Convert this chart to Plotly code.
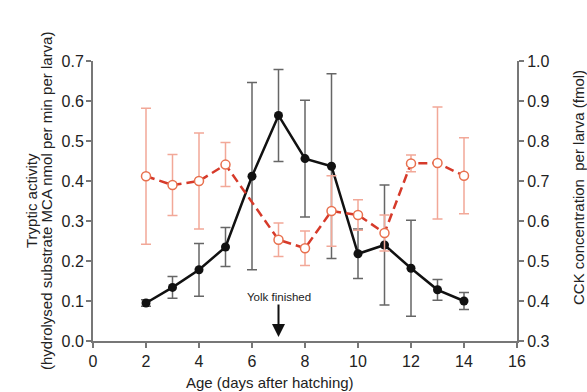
import plotly.graph_objects as go

days_trypsin = [2, 3, 4, 5, 6, 7, 8, 9, 10, 11, 12, 13, 14]
trypsin = [0.095, 0.134, 0.178, 0.235, 0.412, 0.564, 0.456, 0.437, 0.218, 0.240, 0.182, 0.128, 0.100]
trypsin_err = [0.008, 0.027, 0.066, 0.049, 0.234, 0.115, 0.146, 0.231, 0.062, 0.150, 0.120, 0.026, 0.021]

days_cck = [2, 3, 4, 5, 7, 8, 9, 10, 11, 12, 13, 14]
cck = [0.712, 0.690, 0.700, 0.741, 0.553, 0.532, 0.625, 0.615, 0.570, 0.744, 0.745, 0.713]
cck_err = [0.170, 0.076, 0.120, 0.055, 0.042, 0.043, 0.088, 0.038, 0.045, 0.021, 0.140, 0.095]

x_ticks = [0, 2, 4, 6, 8, 10, 12, 14, 16]
left_ticks = [0.0, 0.1, 0.2, 0.3, 0.4, 0.5, 0.6, 0.7]
right_ticks = [0.3, 0.4, 0.5, 0.6, 0.7, 0.8, 0.9, 1.0]

FONT = "Liberation Sans, Arial, sans-serif"
AX = "#777777"
TXT = "#222222"

fig = go.Figure()

fig.add_trace(go.Scatter(
    x=days_cck, y=cck, yaxis="y2", mode="lines+markers",
    line=dict(color="#d63a2a", width=2.5, dash="9px,5px"),
    marker=dict(symbol="circle", size=9, color="white",
                line=dict(color="#e8704e", width=1.5)),
    error_y=dict(type="data", array=cck_err, visible=True,
                 color="#f2a898", thickness=1.5, width=5),
    showlegend=False,
))

fig.add_trace(go.Scatter(
    x=days_trypsin, y=trypsin, mode="lines+markers",
    line=dict(color="#111111", width=2.5),
    marker=dict(symbol="circle", size=9, color="#111111"),
    error_y=dict(type="data", array=trypsin_err, visible=True,
                 color="#666666", thickness=1.5, width=5),
    showlegend=False,
))

axis_common = dict(
    showline=True, linecolor=AX, linewidth=2,
    ticks="outside", ticklen=5, tickwidth=1.5, tickcolor=AX,
    showgrid=False, zeroline=False,
    tickfont=dict(family=FONT, size=16, color=TXT),
)

def ytitle(text, xpx, size=15):
    return dict(text=text, xref="paper", yref="paper", x=(xpx - 93) / 424, y=0.5,
                textangle=-90, showarrow=False, xanchor="center", yanchor="middle",
                font=dict(family=FONT, size=size, color=TXT))

fig.update_layout(
    width=587, height=392,
    margin=dict(l=93, r=70, t=61, b=51),
    paper_bgcolor="white", plot_bgcolor="white",
    font=dict(family=FONT, color=TXT),
    xaxis=dict(range=[0, 16], tickvals=x_ticks, **axis_common),
    yaxis=dict(range=[0, 0.7], tickvals=left_ticks, tickformat=".1f",
               ticklabelstandoff=-1, **axis_common),
    yaxis2=dict(range=[0.3, 1.0], tickvals=right_ticks, tickformat=".1f",
                overlaying="y", side="right", **axis_common),
    annotations=[
        dict(text="Age (days after hatching)", xref="paper", yref="paper",
             x=(270 - 93) / 424, y=(341 - 382) / 280, showarrow=False,
             xanchor="center", yanchor="middle",
             font=dict(family=FONT, size=15, color=TXT)),
        ytitle("Tryptic activity", 31),
        ytitle("(hydrolysed substrate MCA nmol per min per larva)", 46),
        dict(text="CCK concentration  per larva (fmol)",
             xref="paper", yref="paper", x=(578 - 93) / 424, y=(341 - 188) / 280,
             textangle=-90, showarrow=False, xanchor="center", yanchor="middle",
             font=dict(family=FONT, size=15, color=TXT)),
        dict(text="Yolk finished", x=7, y=0.01, xref="x", yref="y",
             showarrow=True, ax=0, ay=-40, arrowhead=2, arrowsize=1.3,
             arrowwidth=2, arrowcolor="#111111",
             font=dict(family=FONT, size=11.5, color="#222222")),
    ],
)

fig.write_html(
    "out.html",
    config={"displayModeBar": False},
    post_script="document.body.style.margin='0';document.body.style.overflow='hidden';",
)
